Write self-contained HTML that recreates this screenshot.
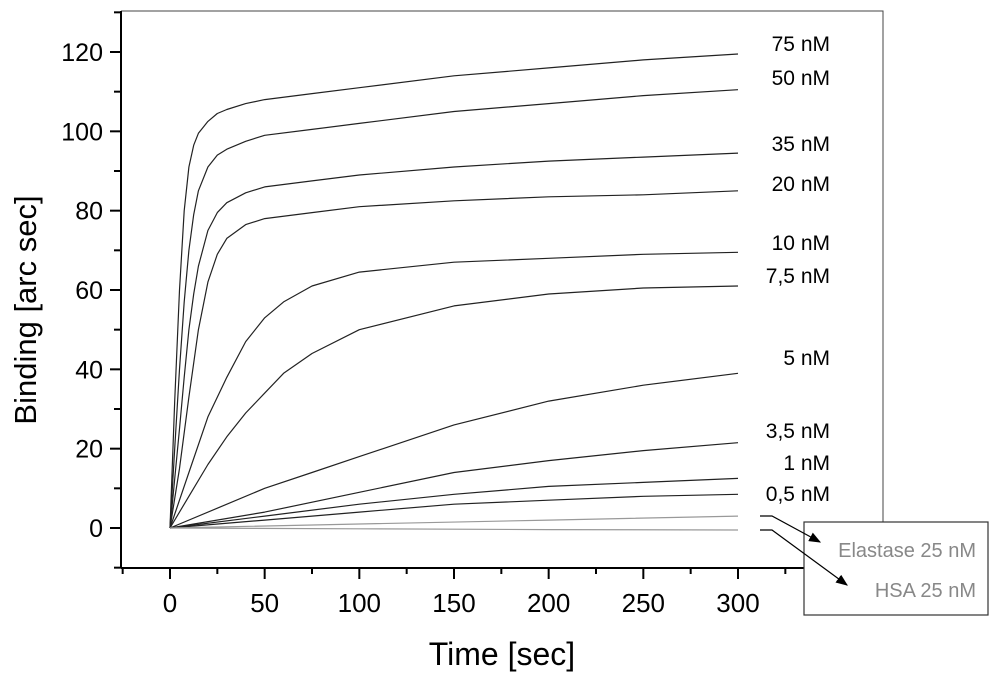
<!DOCTYPE html>
<html><head><meta charset="utf-8"><style>
body{margin:0;background:#fff}
svg{display:block;font-family:"Liberation Sans",Arial,sans-serif}
</style></head><body>
<svg id="chart" width="1000" height="681" viewBox="0 0 1000 681">
<defs><marker id="ah" markerWidth="10" markerHeight="8" refX="9" refY="4" orient="auto"><path d="M0,0 L10,4 L0,8 Z" fill="#000"/></marker></defs>
<g id="plot"></g>
<text x="502" y="665" font-size="32" text-anchor="middle">Time [sec]</text>
<text transform="translate(36,310) rotate(-90)" font-size="31" text-anchor="middle">Binding [arc sec]</text>
<g>
<rect x="804" y="522" width="184" height="93" fill="#fff" stroke="#333" stroke-width="1.2"/>
<polyline points="760,516 772,516 820,542" fill="none" stroke="#000" stroke-width="1.2" marker-end="url(#ah)"/>
<polyline points="760,530 772,530 847,585" fill="none" stroke="#000" stroke-width="1.2" marker-end="url(#ah)"/>
<text x="976" y="557" font-size="20" fill="#888" text-anchor="end">Elastase 25 nM</text>
<text x="976" y="597" font-size="20" fill="#888" text-anchor="end">HSA 25 nM</text>
</g>
</svg>
<script>
const names=["75 nM","50 nM","35 nM","20 nM","10 nM","7,5 nM","5 nM","3,5 nM","1 nM","0,5 nM","Elastase 25 nM","HSA 25 nM"];
const times=[
[0,2.5,5,7.5,10,12.5,15,20,25,30,40,50,75,100,150,200,250,300],
[0,2.5,5,7.5,10,12.5,15,20,25,30,40,50,75,100,150,200,250,300],
[0,5,7.5,10,12.5,15,20,25,30,40,50,75,100,150,200,250,300],
[0,5,10,15,20,25,30,40,50,75,100,150,200,250,300],
[0,10,20,30,40,50,60,75,100,150,200,250,300],
[0,10,20,30,40,50,60,75,100,150,200,250,300],
[0,25,50,75,100,150,200,250,300],
[0,50,100,150,200,250,300],
[0,50,100,150,200,250,300],
[0,50,100,150,200,250,300],
[0,100,200,300],
[0,100,200,300]];
const values=[
[0,32,60,80,91,96.5,99.5,102.5,104.5,105.5,107,108,109.5,111,114,116,118,119.5],
[0,20,40,57,70,79,85,91,94,95.5,97.5,99,100.5,102,105,107,109,110.5],
[0,25,38,50,59,66,75,79.5,82,84.5,86,87.5,89,91,92.5,93.5,94.5],
[0,15,33,50,62,69,73,76.5,78,79.5,81,82.5,83.5,84,85],
[0,14,28,38,47,53,57,61,64.5,67,68,69,69.5],
[0,8,16,23,29,34,39,44,50,56,59,60.5,61],
[0,5,10,14,18,26,32,36,39],
[0,4,9,14,17,19.5,21.5],
[0,3,6,8.5,10.5,11.5,12.5],
[0,2,4,6,7,8,8.5],
[0,1,2,3],
[0,-0.2,-0.4,-0.5]];
const labelY=[44,78,144,184,243,276,358,431,463,494];
const xTicks=[0,50,100,150,200,250,300];
const yTicks=[0,20,40,60,80,100,120];
const X=t=>170+t*(738-170)/300;
const Y=v=>528-v*(528-52)/120;
const ns="http://www.w3.org/2000/svg";
const g=document.getElementById('plot');
function mk(tag,attrs){const e=document.createElementNS(ns,tag);for(const k in attrs)e.setAttribute(k,attrs[k]);g.appendChild(e);return e;}
let f=mk('path',{d:'M121,11 H883 V568',fill:'none',stroke:'#444','stroke-width':1});


let ax=mk('line',{x1:121,y1:11,x2:121,y2:568,stroke:'#000','stroke-width':2});


let bx=mk('line',{x1:121,y1:568,x2:883,y2:568,stroke:'#000','stroke-width':2});


for(let v=-10;v<=130;v+=10){const maj=v%20===0;const tk=mk('line',{x1:maj?110:114,x2:121,y1:Y(v),y2:Y(v),stroke:'#000','stroke-width':2});

}
yTicks.forEach(v=>{const t=mk('text',{x:103,y:Y(v)+9,'font-size':25,'text-anchor':'end'});t.textContent=v;

});
for(let t=-25;t<=375;t+=25){const maj=t%50===0;const tk=mk('line',{x1:X(t),x2:X(t),y1:568,y2:maj?579:574,stroke:'#000','stroke-width':2});

}
xTicks.forEach(v=>{const t=mk('text',{x:X(v),y:612,'font-size':26,'text-anchor':'middle'});t.textContent=v;

});
values.forEach((vals,i)=>{
 const pts=vals.map((v,j)=>X(times[i][j]).toFixed(1)+','+Y(v).toFixed(1)).join(' ');
 const gray=i>=10;
 const p=mk('polyline',{points:pts,fill:'none',stroke:gray?'#999':'#222','stroke-width':1.2,'stroke-linejoin':'round'});
 
 
 if(i<10){const t=mk('text',{x:830,y:labelY[i]+7,'font-size':21,'text-anchor':'end'});t.textContent=names[i];
 
 }
});
</script>
</body></html>
